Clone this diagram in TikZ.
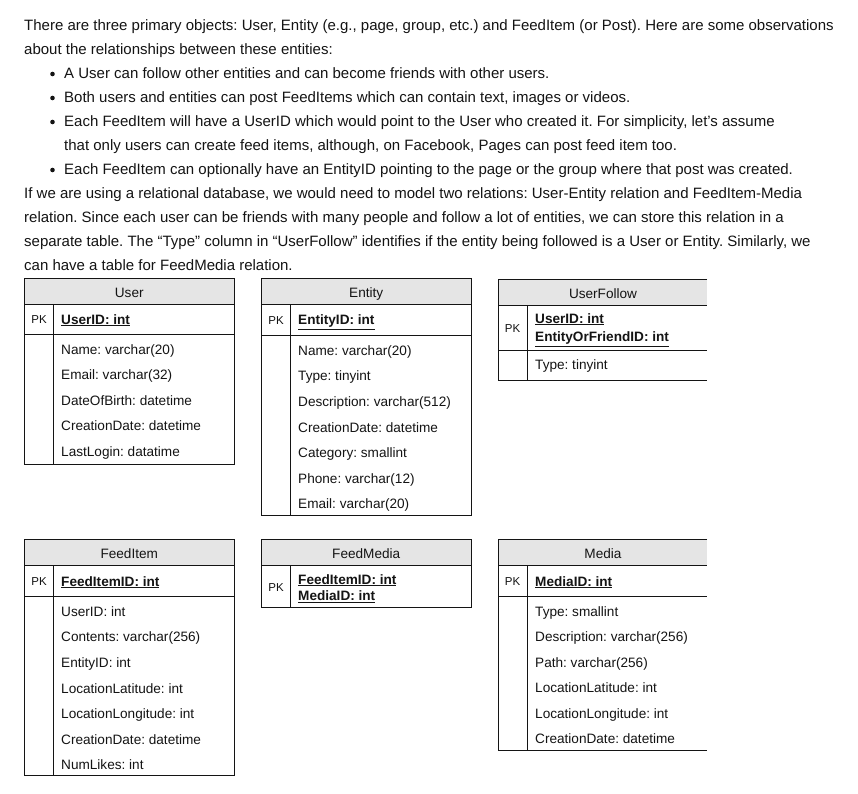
\documentclass[tikz,border=0pt]{standalone}
\usepackage{fontspec}
\setmainfont{Liberation Sans}
\frenchspacing
\definecolor{hdrgray}{RGB}{229,229,229}
\definecolor{ink}{RGB}{20,20,20}
\begin{document}
\begin{tikzpicture}[x=1pt,y=-1pt,
  para/.style={anchor=base west,inner sep=0pt,text=ink,font=\fontsize{15}{18}\selectfont\frenchspacing},
  cell/.style={anchor=base west,inner sep=0pt,text=ink,font=\fontsize{13.6}{16}\selectfont\frenchspacing},
  pkcell/.style={anchor=base west,inner sep=0pt,text=ink,font=\fontsize{13.6}{16}\selectfont\bfseries\frenchspacing},
  pklabel/.style={anchor=base,inner sep=0pt,text=ink,font=\fontsize{11.5}{14}\selectfont},
  title/.style={anchor=base,inner sep=0pt,text=ink,font=\fontsize{13.6}{16}\selectfont},
  dot/.style={circle,fill=ink,inner sep=0pt,minimum size=4.6pt},
  tline/.style={draw=ink,line width=0.9pt},
  hdr/.style={fill=hdrgray}]
\useasboundingbox (0,0) rectangle (858,793);
\fill[white] (0,0) rectangle (858,793);

% ---------------- paragraph text ----------------
\node[para] (l1) at (24,30.5) {There are three primary objects: User, Entity (e.g., page, group, etc.) and FeedItem (or Post). Here are some observations};
\node[para] (l2) at (24,54.5) {about the relationships between these entities:};
\node[dot] (b1) at (52.5,74) {};
\node[para] (l3) at (64,78.5) {A User can follow other entities and can become friends with other users.};
\node[dot] (b2) at (52.5,98) {};
\node[para] (l4) at (64,102.5) {Both users and entities can post FeedItems which can contain text, images or videos.};
\node[dot] (b3) at (52.5,122) {};
\node[para] (l5) at (64,126.5) {Each FeedItem will have a UserID which would point to the User who created it. For simplicity, let’s assume};
\node[para] (l6) at (64,150.5) {that only users can create feed items, although, on Facebook, Pages can post feed item too.};
\node[dot] (b4) at (52.5,170) {};
\node[para] (l7) at (64,174.5) {Each FeedItem can optionally have an EntityID pointing to the page or the group where that post was created.};
\node[para] (l8) at (24,198.5) {If we are using a relational database, we would need to model two relations: User-Entity relation and FeedItem-Media};
\node[para] (l9) at (24,222.5) {relation. Since each user can be friends with many people and follow a lot of entities, we can store this relation in a};
\node[para] (l10) at (24,246.5) {separate table. The “Type” column in “UserFollow” identifies if the entity being followed is a User or Entity. Similarly, we};
\node[para] (l11) at (24,270.5) {can have a table for FeedMedia relation.};

% ---------------- User ----------------
\fill[hdr] (24.5,278.5) rectangle (234,304.5);
\draw[tline] (24.5,278.5) rectangle (234,464.5);
\draw[tline] (24.5,304.5) -- (234,304.5);
\draw[tline] (24.5,334) -- (234,334);
\draw[tline] (53.5,304.5) -- (53.5,464.5);
\node[title] (userT) at (129.25,297) {User};
\node[pklabel] (userPK) at (39,323.5) {PK};
\node[pkcell] (userID) at (61,324) {\underline{UserID: int}};
\foreach \t [count=\i] in {Name: varchar(20),Email: varchar(32),DateOfBirth: datetime,CreationDate: datetime,LastLogin: datatime}
  \node[cell] (user\i) at (61,{349.5+25.5*(\i-1)+4.8}) {\t};

% ---------------- Entity ----------------
\fill[hdr] (261.5,278.5) rectangle (471,304.5);
\draw[tline] (261.5,278.5) rectangle (471,515);
\draw[tline] (261.5,304.5) -- (471,304.5);
\draw[tline] (261.5,335) -- (471,335);
\draw[tline] (290.5,304.5) -- (290.5,515);
\node[title] (entT) at (366.25,297) {Entity};
\node[pklabel] (entPK) at (276,324) {PK};
\node[pkcell] (entID) at (298,324.8) {\underline{EntityID: int}};
\foreach \t [count=\i] in {Name: varchar(20),Type: tinyint,Description: varchar(512),CreationDate: datetime,Category: smallint,Phone: varchar(12),Email: varchar(20)}
  \node[cell] (ent\i) at (298,{350.5+25.6*(\i-1)+4.8}) {\t};

% ---------------- UserFollow ----------------
\fill[hdr] (498.5,279.5) rectangle (707,305.5);
\draw[tline] (707,279.5) -- (498.5,279.5) -- (498.5,380) -- (707,380);
\draw[tline] (498.5,305.5) -- (707,305.5);
\draw[tline] (498.5,350) -- (707,350);
\draw[tline] (527.5,305.5) -- (527.5,380);
\node[title] (ufT) at (603,298) {UserFollow};
\node[pklabel] (ufPK) at (512.5,332) {PK};
\node[pkcell] (uf1) at (535,323) {\underline{UserID: int}};
\node[pkcell] (uf2) at (535,341.5) {\underline{EntityOrFriendID: int}};
\node[cell] (uf3) at (535,369) {Type: tinyint};

% ---------------- FeedItem ----------------
\fill[hdr] (24.5,539.5) rectangle (234,565.5);
\draw[tline] (24.5,539.5) rectangle (234,775.5);
\draw[tline] (24.5,565.5) -- (234,565.5);
\draw[tline] (24.5,596) -- (234,596);
\draw[tline] (53.5,565.5) -- (53.5,775.5);
\node[title] (fiT) at (129.25,558) {FeedItem};
\node[pklabel] (fiPK) at (39,585) {PK};
\node[pkcell] (fiID) at (61,586) {\underline{FeedItemID: int}};
\foreach \t [count=\i] in {UserID: int,Contents: varchar(256),EntityID: int,LocationLatitude: int,LocationLongitude: int,CreationDate: datetime,NumLikes: int}
  \node[cell] (fi\i) at (61,{611.5+25.6*(\i-1)+4.8}) {\t};

% ---------------- FeedMedia ----------------
\fill[hdr] (261.5,539.5) rectangle (471,565.5);
\draw[tline] (261.5,539.5) rectangle (471,607.5);
\draw[tline] (261.5,565.5) -- (471,565.5);
\draw[tline] (290.5,565.5) -- (290.5,607.5);
\node[title] (fmT) at (366.25,558) {FeedMedia};
\node[pklabel] (fmPK) at (276,591.5) {PK};
\node[pkcell] (fm1) at (298,584) {\underline{FeedItemID: int}};
\node[pkcell] (fm2) at (298,600.5) {\underline{MediaID: int}};

% ---------------- Media ----------------
\fill[hdr] (498.5,539.5) rectangle (707,565.5);
\draw[tline] (707,539.5) -- (498.5,539.5) -- (498.5,750) -- (707,750);
\draw[tline] (498.5,565.5) -- (707,565.5);
\draw[tline] (498.5,596) -- (707,596);
\draw[tline] (527.5,565.5) -- (527.5,750);
\node[title] (mT) at (603,558) {Media};
\node[pklabel] (mPK) at (512.5,585) {PK};
\node[pkcell] (mID) at (535,586) {\underline{MediaID: int}};
\foreach \t [count=\i] in {Type: smallint,Description: varchar(256),Path: varchar(256),LocationLatitude: int,LocationLongitude: int,CreationDate: datetime}
  \node[cell] (m\i) at (535,{611.5+25.5*(\i-1)+4.8}) {\t};
\end{tikzpicture}
\end{document}
